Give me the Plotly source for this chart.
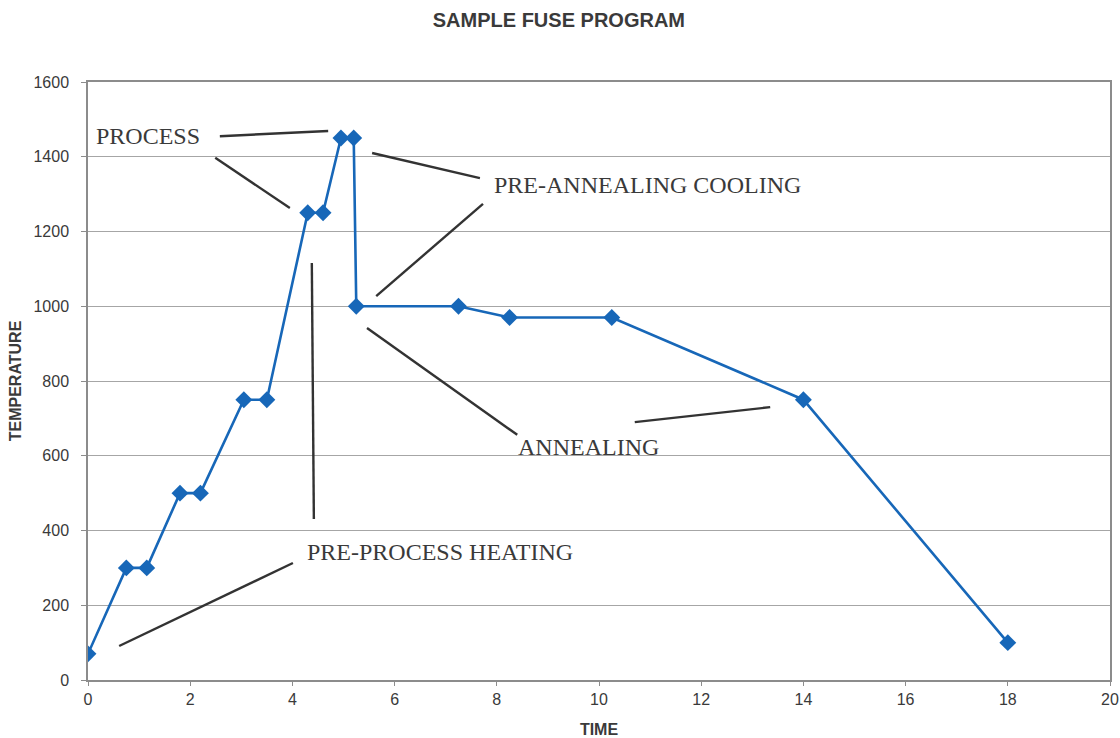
import plotly.graph_objects as go

# Data
time = [0, 0.75, 1.15, 1.8, 2.2, 3.05, 3.5, 4.3, 4.6, 4.95, 5.2, 5.25, 7.25, 8.25, 10.25, 14, 18]
temperature = [70, 300, 300, 500, 500, 750, 750, 1250, 1250, 1450, 1450, 1000, 1000, 970, 970, 750, 100]
x_ticks = [0, 2, 4, 6, 8, 10, 12, 14, 16, 18, 20]
y_ticks = [0, 200, 400, 600, 800, 1000, 1200, 1400, 1600]

# Callout labels (text, x, y) in data units
labels = [
    ("PROCESS", 1.17, 1455),
    ("PRE-ANNEALING COOLING", 10.94, 1324),
    ("ANNEALING", 9.80, 623),
    ("PRE-PROCESS HEATING", 6.89, 342),
]
# Leader lines (x0, y0, x1, y1) in data units
leaders = [
    (2.58, 1455, 4.70, 1469),
    (2.49, 1397, 3.95, 1263),
    (5.56, 1410, 7.67, 1343),
    (7.73, 1274, 5.64, 1027),
    (4.38, 1116, 4.42, 431),
    (0.61, 91, 4.01, 313),
    (5.46, 942, 8.40, 656),
    (10.70, 690, 13.35, 730),
]

GRID = "#a6a6a6"
TXT = "#3a3a3a"
BLUE = "#1767b8"

fig = go.Figure()
fig.add_trace(go.Scatter(
    x=time, y=temperature, mode="lines+markers",
    line=dict(color=BLUE, width=2.6),
    marker=dict(symbol="diamond", size=13, color=BLUE),
    showlegend=False, hoverinfo="x+y",
))

shapes = []
for x0, y0, x1, y1 in leaders:
    shapes.append(dict(type="line", xref="x", yref="y", x0=x0, y0=y0, x1=x1, y1=y1,
                       line=dict(color="#333333", width=2.4)))

annotations = []
for text, x, y in labels:
    annotations.append(dict(text=text, x=x, y=y, xref="x", yref="y", showarrow=False,
                            font=dict(family="Liberation Serif", size=24, color=TXT),
                            xanchor="center", yanchor="middle"))

fig.update_layout(
    width=1120, height=738,
    paper_bgcolor="white", plot_bgcolor="white",
    margin=dict(l=88, r=10, t=82, b=58, autoexpand=False),
    title=dict(text="<b>SAMPLE FUSE PROGRAM</b>", x=0.499, xanchor="center", y=0.973, yanchor="middle",
               font=dict(family="Liberation Sans", size=20, color=TXT)),
    font=dict(family="Liberation Sans", size=15, color=TXT),
    shapes=shapes, annotations=annotations,
    xaxis=dict(range=[0, 20], tickvals=x_ticks, ticktext=[str(v) for v in x_ticks],
               showgrid=False, zeroline=False, showline=True, linecolor="#8c8c8c", linewidth=1.5,
               mirror=True, ticks="outside", ticklen=4, tickcolor="#8c8c8c",
               ticklabeloverflow="allow",
               tickfont=dict(size=16, color=TXT),
               title=dict(text="<b>TIME</b>", font=dict(size=16, color=TXT), standoff=19)),
    yaxis=dict(range=[0, 1600], tickvals=y_ticks, ticktext=[str(v) for v in y_ticks],
               showgrid=True, gridcolor=GRID, gridwidth=1, zeroline=False,
               showline=True, linecolor="#8c8c8c", linewidth=1.5, mirror=True,
               ticks="outside", ticklen=5, tickcolor="#8c8c8c", ticklabelstandoff=9,
               tickfont=dict(size=16, color=TXT),
               title=dict(text="<b>TEMPERATURE</b>", font=dict(size=16, color=TXT), standoff=8)),
)

fig.write_html("out.html", config={"displayModeBar": False},
               post_script="document.body.style.margin='0';document.body.style.overflow='hidden';")
